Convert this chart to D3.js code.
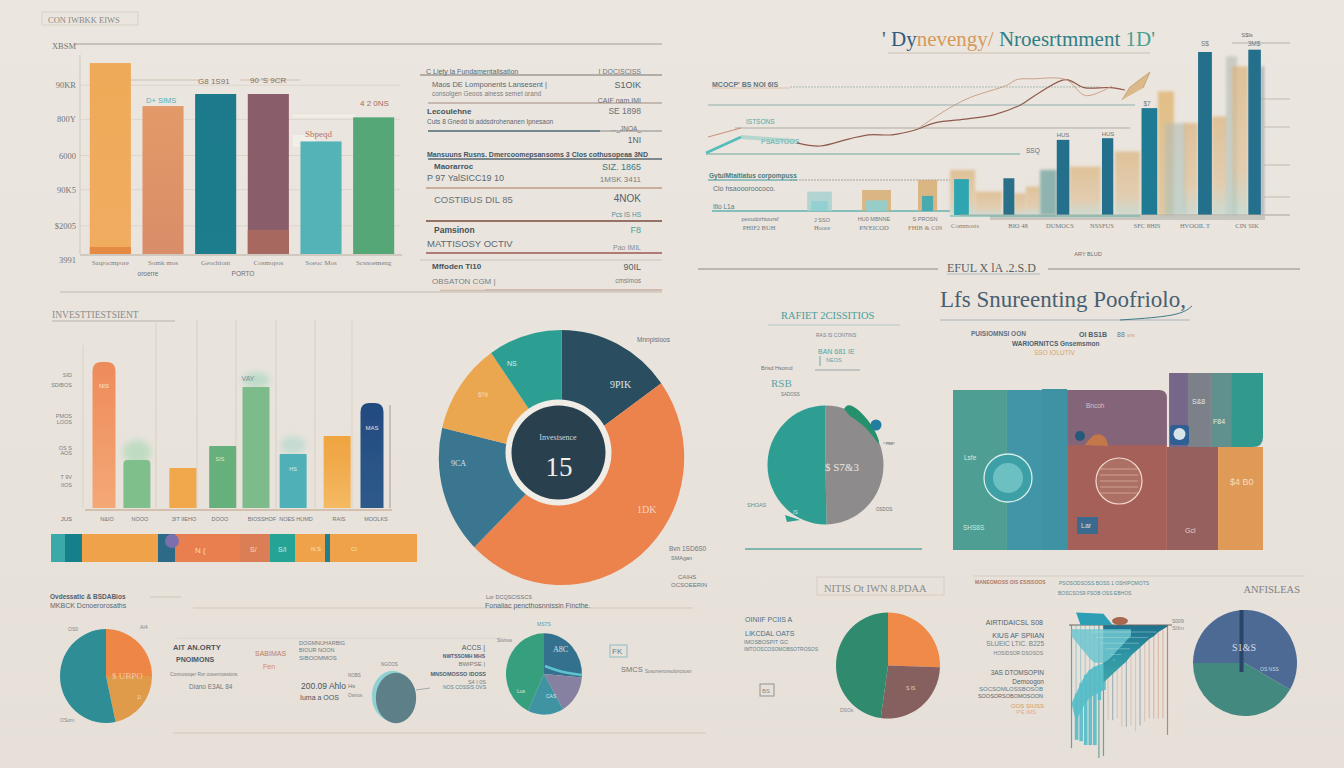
<!DOCTYPE html>
<html><head><meta charset="utf-8">
<style>html,body{margin:0;padding:0;background:#e9e4dd;overflow:hidden}svg{display:block}text{font-family:"Liberation Sans",sans-serif}</style>
<script src="https://cdn.jsdelivr.net/npm/d3@7"></script></head><body><svg id="c" width="1344" height="768"></svg>
<script>
// ---------- top-left bars
const barCats=["Saqrocmpore","Somk mos","Geochiont","Cosmopos","Soeoc Mos","Scsnoemeng"];
const barVals=[95,73.6,79.6,79.6,56,68];
const barLower=[3.5,0,0,12,0,0];
const barTicks=[["XBSM",103.5],["90KR",84],["800Y",67],["6000",49],["90K5",32],["$2005",14],["3991",-3]];
// ---------- table
const tableLeft=["C Liety la Fundamentalisation","Maos DE Lomponents Lansesent |","consolgen Geoos ainess semet orand","Lecoulehne","Cuts 8 Gnedd bi addsdrohenanen Ipnesaon","Mansuuns Rusns. Dmercoomepsansoms 3 Clos cothusopeaa 3ND","Maorarroc","P 97 YalSICC19 10","COSTIBUS DIL 85","Pamsinon","MATTISOSY OCTIV","Mffoden Ti10","OBSATON CGM |"];
const tableRight=["I DOCISCISS","S1OIK","CAIF nam.IMI","SE 1898","..._JNOA_","1NI","SIZ. 1865","1MSK 3411","4NOK","Pcs IS HS","F8","Pao IMIL","90IL","cmsimos"];
// ---------- top-right composed chart
const trendPeriod=[0,7,16,22,29,36,42,52,60,68,74,82,87.5,95.5,100];
const trendValue=[9,5,14,19,19,25,34,39,44,56,72,88,78,78,75];
const trendBPeriod=[37,42,48,53,64,67,72,82,88,96];
const trendBValue=[27,41,56,66,81,88,89,88,68,80];
const barStart=[1.3,17,34,48.4,61,79,95];
const barEnd=[6,20.5,38,52,66,83.4,99];
const barValue=[21.5,22,45,46,64,97.6,99];
const bgStart=[0,8,20.4,24.2,28.7,38,52.5,66.2,68.5,74.5,83.4,87.9,89.8,99];
const bgEnd=[8,16.6,24.2,28.7,34,48,60.5,71.3,75.2,79,88.2,91.4,95,100];
const bgValue=[27,14,13,17,27,29,38,74,55,55,59,95,89,89];
const earlyStart=[-45.5,-28,-10.2];
const earlyEnd=[-37.6,-18.8,-4.1];
const earlyValue=[14,15,21];
const comboCats=["PHIF2 BUH","Hoore","PN'EICOD","FHIB & C09","Commosts","BIO 48","DUMOCS","NSSFUS","SFC 8HIS","HVOOIL T","CIN SIK"];
// ---------- middle-left bars
const midCats=["N&IO","NOOO","3IT IIEHO","DOOO","BIOSSHOF","NOES HUMD","RAIS","MOOLKS"];
const midSlot=[0,0.86,2.06,3.1,3.97,4.94,6.09,7];
const midVals=[73,24,20,31,60.5,27,36,52.5];
const stripSegs=[14,17,76,17,65,30,25,30,5,87];
// ---------- pies
const bigPie=[54.4,170.9,58.2,41.5,35];
const midPie=[179,181];
const blPie=[90,78,192];
const smallPie=[360];
const midPie2=[95,55,55,155];
const brPie1=[92,96,172];
const brPie2=[150,210];
// ---------- block chart (shares)
const blockX0=[0,17.4,36.8,69.7,75.8,83.2,89.7,36.8,69,85.5];
const blockX1=[17.4,36.8,69,75.8,83.2,89.7,100,69,85.5,100];
const blockY0=[0,0,59.3,58.2,58.2,58.2,58.2,0,0,0];
const blockY1=[90.4,90.4,90.4,100,100,100,100,59.3,58.2,58.2];
// ---------- fan chart
const stemDepth=[88,82,82,83.5,86,86,95,93.6,68,68,66.7,72.6,72.6,72,76,71.7,69,66.7,66.7,66.7,66.7,78.5];
const wedgeDepth=[null,null,null,null,null,null,null,41,38,35,32,29,26,22,19,16,13,10,8,5,3,1];
const fanTop=[56,49,41.7,35.7,32,29.8,28.6,27.4];
const fanBottom=[56,82,83,85.7,85.7,85.7,53.6,46.4];
const fanLight=[8,12,16,20,24,27,27,27,25,22,18,15,11,8];

const svg=d3.select("#c");
const defs=svg.append("defs");
function grad(id,stops){const g=defs.append("linearGradient").attr("id",id).attr("x1",0).attr("x2",0).attr("y1",0).attr("y2",1);stops.forEach(([o,c,a])=>g.append("stop").attr("offset",o).attr("stop-color",c).attr("stop-opacity",a==null?1:a));return `url(#${id})`;}
function blur(id,s){defs.append("filter").attr("id",id).attr("x","-40%").attr("width","180%").attr("y","-40%").attr("height","180%").append("feGaussianBlur").attr("stdDeviation",s);}
blur("soft",0.6);blur("soft2",1.6);blur("glow",3);
const root=svg.append("g");
root.append("rect").attr("width",1344).attr("height",768).attr("fill",grad("bgG",[[0,"#ebe6df"],[1,"#e6e0d9"]]));
function T(x,y,s,o={}){return root.append("text").attr("x",x).attr("y",y).text(s).attr("font-size",o.z||7).attr("fill",o.f||"#56606a").attr("text-anchor",o.a||"start").attr("font-weight",o.w||400).style("font-family",o.ff||null).attr("letter-spacing",o.ls||null).attr("opacity",o.o==null?1:o.o);}
function R(x1,y1,x2,y2,c,w=1,o=1,d=null){root.append("line").attr("x1",x1).attr("x2",x2).attr("y1",y1).attr("y2",y2).attr("stroke",c).attr("stroke-width",w).attr("opacity",o).attr("stroke-dasharray",d);}
const serif='"Liberation Serif",serif';
const rad=d=>d*Math.PI/180;
function pie(cx,cy,r,vals,cols,start=0,sy=1,sx=1){
  const a=d3.arc().innerRadius(0).outerRadius(r);
  const p=d3.pie().sort(null).startAngle(rad(start)).endAngle(rad(start+360))(vals);
  const g=root.append("g").attr("transform",`translate(${cx},${cy}) scale(${sx},${sy})`);
  g.selectAll("path").data(p).join("path").attr("d",a).attr("fill",(d,i)=>cols[i]);
  return g;
}

// ========== top-left panel
R(75,44,662,44,"#a49a92",1);R(60,292,662,292,"#c3b8ac",1);
root.append("rect").attr("x",42).attr("y",12).attr("width",96).attr("height",13).attr("fill","#eae5de").attr("stroke","#d9d1c7");
T(48,23,"CON IWBKK EIWS",{z:8.5,f:"#8a8a84",ff:serif});
const y1=d3.scaleLinear().domain([0,100]).range([254,53]);
const x1=d3.scaleBand().domain(barCats).range([84,400]).paddingInner(.22).paddingOuter(.11);
R(80,55,80,254,"#cfc7bd",1);
barTicks.forEach(([t,v])=>{T(76,y1(v)+3,t,{z:8.5,a:"end",f:"#73777a",ff:serif}); if(v>0&&v<100)R(80,y1(v),400,y1(v),"#dad2c8",1,.8);});
R(80,255,402,255,"#c8bfb5",1.5);
R(130,80,200,80,"#cfc0b0",1);R(240,80,300,80,"#cfc0b0",1);R(293,116,355,116,"#f2eee8",3);R(293,141,315,141,"#f2eee8",12);
const barFill=[grad("g1",[[0,"#eeaa58"],[1,"#f1ac60"]]),grad("g2",[[0,"#e39a68"],[1,"#d98d67"]]),grad("g3",[[0,"#1f7a8c"],[1,"#1f7d8c"]]),"#8a5d6a","#53b3b6","#57a777"];
const lowerFill=["#e48a44",null,null,"#a6685f",null,null];
root.append("g").selectAll("rect").data(barVals).join("rect").attr("x",(d,i)=>x1(barCats[i])).attr("y",d=>y1(d)).attr("width",x1.bandwidth()).attr("height",d=>y1(0)-y1(d)).attr("fill",(d,i)=>barFill[i]).attr("filter","url(#soft)");
root.append("g").selectAll("rect").data(barLower).join("rect").attr("x",(d,i)=>x1(barCats[i])).attr("y",d=>y1(d)).attr("width",x1.bandwidth()).attr("height",d=>y1(0)-y1(d)).attr("fill",(d,i)=>lowerFill[i]||"none").attr("filter","url(#soft)");
barCats.forEach((c,i)=>T(x1(c)+x1.bandwidth()/2,265,c,{z:7,a:"middle",f:"#7d8184",ff:serif}));
T(148,276,"oroerre",{z:6.5,a:"middle",f:"#6f7377"});T(243,276,"PORTO",{z:6.5,a:"middle",f:"#6f7377"});
T(198,84,"G8 1S91",{z:8,f:"#8b6f60"});T(250,83,"90 'S 9CR",{z:8,f:"#8b6f60"});
T(146,103,"D+ SIMS",{z:7.5,f:"#58aeb4"});T(360,106,"4 2 0NS",{z:8,f:"#a56d62"});T(305,137,"Sbpeqd",{z:9,f:"#b9735d",ff:serif});

// table rules
[[420,75,662,"#7a7570",1],[428,103,662,"#a18c80",1],[428,131,600,"#4c6a72",1.5],[600,131,662,"#8c8a86",1],[428,159,662,"#5a6a72",1.5],[426,188,662,"#a8785a",1.2],[426,221,662,"#7a4b3e",1.4],[426,253,662,"#9a5a50",1.3],[420,260,662,"#cfc5b9",1],[440,290,662,"#b59182",1]].forEach(r=>R(r[0],r[1],r[2],r[1],r[3],r[4]));
const tl=[[426,74,7,"#5b6771",400],[432,87,7.5,"#5b6771",400],[432,96,6.5,"#7a7e80",400],[427,114,8,"#47535c",700],[427,124,6.5,"#5b6771",400],[427,157,7,"#465460",700],[434,169,8,"#47535c",700],[427,181,9,"#5b6771",400],[434,203,9.5,"#6a7378",400],[434,233,8.5,"#47535c",700],[427,247,9.5,"#5b6771",400],[432,269,8,"#47535c",700],[432,284,8,"#7a7e80",400]];
tableLeft.forEach((s,i)=>T(tl[i][0],tl[i][1],s,{z:tl[i][2],f:tl[i][3],w:tl[i][4]}));
const tr=[[641,74,7,"#6d7780"],[641,88,9,"#56626b"],[641,103,7,"#6b6e70"],[641,114,8.5,"#6b7078"],[641,131,6.5,"#6b6e70"],[641,143,8.5,"#56626b"],[641,170,9,"#3e7a80"],[641,182,8,"#7a7e80"],[641,202,10,"#56626b"],[641,217,6.5,"#5a9098"],[641,233,9,"#4aa1a0"],[641,250,7,"#8a8e90"],[641,270,9,"#56626b"],[641,283,6.5,"#7a7e80"]];
tableRight.forEach((s,i)=>T(tr[i][0],tr[i][1],s,{z:tr[i][2],f:tr[i][3],a:"end"}));
root.append("rect").attr("x",440).attr("y",285).attr("width",45).attr("height",5).attr("fill","#ecdcd0").attr("opacity",.8);

// ========== top-right composed
const title=root.append("text").attr("x",882).attr("y",46).attr("font-size",21).style("font-family",serif);
[["' ","#55606a"],["Dy","#2f5a7e"],["nevengy/ ","#d69a5a"],[" Nroesrtmment  ","#2f7f88"],["1D'","#48a08f"]].forEach(([s,c])=>title.append("tspan").text(s).attr("fill",c));
R(888,53,1150,53,"#cfc0b0",1.2);
T(712,87,"MCOCP' BS NOI 6IS",{z:7,f:"#5f7885",w:700});
R(790,87,1100,87,"#9db5b0",1,.9,"2 1");R(712,88,790,88,"#e5d3c4",2);
R(708,105,1135,105,"#8fb0ae",1.2);R(735,128,1130,128,"#a8a59c",1,.9);R(706,154,1020,154,"#6fa8a2",1.2);
R(1232,43,1290,43,"#b8afa5",1);R(1260,99,1290,99,"#c4bbb1",1);R(1264,127,1290,127,"#c4bbb1",1);R(1264,165,1290,165,"#c4bbb1",1);R(1264,197,1290,197,"#c4bbb1",1);
R(790,180,950,180,"#a9a398",1,1,"2 1");R(708,180,797,180,"#3f9aa0",1);R(712,211,950,211,"#64b2ae",1.5);
T(709,178,"GytulMtaitiatus  corpompuss",{z:6.5,f:"#477d80",w:700});T(713,191,"Clo hsaoooroococo.",{z:7,f:"#5b7078"});
T(713,209,"Itlo L1a",{z:6.5,f:"#4f8088"});
T(746,124,"ISTSONS",{z:6.5,f:"#4ea7a6"});T(761,144,"PSASTOOS",{z:7,f:"#4ea7a6"});T(1026,153,"SSQ",{z:6.5,f:"#677078"});
const px=d3.scaleLinear().domain([-50,100]).range([793,1264]);
const py=d3.scaleLinear().domain([0,100]).range([215,48]);
const tanG=grad("tg",[[0,"#dab27a",.7],[.7,"#dcb98a",.55],[1,"#a9cdbf",.45]]);
const greyG=grad("gg",[[0,"#b8bcb4",.65],[1,"#a5c4bd",.55]]);
const goldG=grad("dg",[[0,"#e0ad5f",.7],[1,"#d4b070",.55]]);
const bgFill=[tanG,tanG,tanG,tanG,"#8fb3ae",tanG,tanG,goldG,greyG,tanG,tanG,greyG,tanG,"#a7aeb6"];
root.append("g").selectAll("rect").data(bgValue).join("rect").attr("x",(d,i)=>px(bgStart[i])).attr("width",(d,i)=>px(bgEnd[i])-px(bgStart[i])).attr("y",d=>py(d)).attr("height",d=>py(0)-py(d)).attr("fill",(d,i)=>bgFill[i]).attr("filter","url(#soft2)");
root.append("rect").attr("x",990).attr("y",216).attr("width",275).attr("height",4).attr("fill","#a9a9a3").attr("opacity",.5).attr("filter","url(#soft)");
const earlyFill=["#a6d2d0","#d8ab70","#d8ab70"];
root.append("g").selectAll("rect").data(earlyValue).join("rect").attr("x",(d,i)=>px(earlyStart[i])).attr("width",(d,i)=>px(earlyEnd[i])-px(earlyStart[i])).attr("y",d=>py(d)).attr("height",d=>py(2.4)-py(d)).attr("fill",(d,i)=>earlyFill[i]).attr("opacity",.8).attr("filter","url(#soft)");
root.append("g").selectAll("rect").data(earlyValue).join("rect").attr("x",(d,i)=>px(earlyStart[i])+4).attr("width",(d,i)=>px(earlyEnd[i])-px(earlyStart[i])-8).attr("y",(d,i)=>py(d*.45+2)).attr("height",d=>py(2.4)-py(d*.45+2)).attr("fill",(d,i)=>i==2?"#3aa8b3":"#8fcfd0").attr("opacity",.9);
const barColor=["#2ea5b0","#2a6f8a","#24708c","#24708c","#1f7a94","#24708c","#24708c"];
root.append("g").selectAll("rect").data(barValue).join("rect").attr("x",(d,i)=>px(barStart[i])).attr("width",(d,i)=>px(barEnd[i])-px(barStart[i])).attr("y",d=>py(d)).attr("height",d=>py(0)-py(d)).attr("fill",(d,i)=>barColor[i]);
R(960,215,1290,215,"#a8a69c",1.2);R(950,216,1140,216,"#5ab6ae",1);
const tx=d3.scaleLinear().domain([0,100]).range([797,1125]);
const ty=d3.scaleLinear().domain([0,100]).range([150,70]);
const ln=d3.line().x(d=>tx(d[0])).y(d=>ty(d[1])).curve(d3.curveCatmullRom);
root.append("path").attr("d",ln(trendPeriod.map((p,i)=>[p,trendValue[i]]))).attr("fill","none").attr("stroke","#8f5a4c").attr("stroke-width",1.2);
root.append("path").attr("d",ln(trendBPeriod.map((p,i)=>[p,trendBValue[i]]))).attr("fill","none").attr("stroke","#c69a80").attr("stroke-width",.9);
R(708,137,741,128,"#c98f76",1);R(706,153,741,137,"#55bdb8",2.5);R(741,137,795,141,"#93ccc5",4,.6);
root.append("path").attr("d",d3.line()([[1122,100],[1130,87],[1150,72],[1143,88]])).attr("fill","#dcb98a").attr("stroke","#c9a67a").attr("filter","url(#soft)");
T(1247,37,"S$ls",{z:6,a:"middle",f:"#6a6e70"});T(1205,46,"S$",{z:6.5,a:"middle",f:"#6d7d80"});T(1254,46,"3M$",{z:6.5,a:"middle",f:"#6d7d80"});T(1147,106,"$7",{z:6.5,a:"middle",f:"#5d7f88"});T(1063,137,"HUS",{z:6,a:"middle",f:"#6a7078"});T(1108,136,"HUS",{z:6,a:"middle",f:"#6a7078"});
const comboX=[759,822,874,925,965,1018,1060,1102,1147,1195,1247];
comboCats.forEach((c,i)=>T(comboX[i],i<4?230:228,c,{z:6.5,a:"middle",f:i==3||i==4?"#9a7d64":"#70797f",ff:serif}));
[[760,221,"peoudorhtoursf"],[822,222,"J SSO"],[874,221,"HU0 MBNNE"],[925,221,"S PROSN"]].forEach(d=>T(d[0],d[1],d[2],{z:5.5,a:"middle",f:"#70797f"}));
T(1088,256,"ARY BLUD",{z:5.5,a:"middle",f:"#6a6e70"});
R(698,269,938,269,"#8f8a80",1);R(1048,269,1300,269,"#8f8a80",1);
T(947,272,"EFUL X lA .2.S.D",{z:12,f:"#5a5e62",ff:serif});R(947,274,1040,274,"#a9bcc0",1);
root.append("text").attr("x",940).attr("y",307).attr("font-size",23).style("font-family",serif).attr("fill","#485f71").text("Lfs Snureenting Poofriolo,");
R(940,320,1190,320,"#a8b4b8",1);
root.append("path").attr("d",d3.line().curve(d3.curveBasis)([[1120,320],[1180,316],[1192,306]])).attr("fill","none").attr("stroke","#3c7c88").attr("stroke-width",1);

// ========== mid-left bars
T(52,318,"INVESTTIESTSIENT",{z:9.5,f:"#8a8c88",ff:serif});R(52,321,175,321,"#b9b3a8",1);
[156,197,236,276,315,352].forEach(x=>R(x,320,x,508,"#dccfc3",1.3,.8));R(83,345,83,508,"#d9d1c7",1);
const xm=d3.scaleLinear().domain([0,7]).range([104,372]);
const ym=d3.scaleLinear().domain([0,100]).range([508,308]);
const midFill=[grad("m1",[[0,"#ee8b5a"],[1,"#f4a876"]]),"#7fbf8c","#f0a84c","#66b07c","#7dbb8b","#4fb0b8",grad("m7",[[0,"#f0a63f"],[.3,"#f0a84a"],[1,"#f5ba62"]]),grad("m8",[[0,"#234a80"],[1,"#2e5a8a"]])];
root.append("ellipse").attr("cx",137).attr("cy",452).attr("rx",14).attr("ry",12).attr("fill","#bfdcc2").attr("filter","url(#glow)");
root.append("ellipse").attr("cx",256).attr("cy",380).attr("rx",14).attr("ry",8).attr("fill","#bfdcc8").attr("filter","url(#glow)");
root.append("ellipse").attr("cx",293).attr("cy",445).attr("rx",13).attr("ry",9).attr("fill","#c5dbd3").attr("filter","url(#glow)");
root.append("g").selectAll("path").data(midVals).join("path").attr("filter","url(#soft)").attr("fill",(d,i)=>midFill[i]).attr("d",(d,i)=>{
  const w=(i==0||i==7)?23:27,x=xm(midSlot[i])-w/2,t=ym(d),b=ym(0),r=(i==0||i==7)?9:(i==1?4:1);
  return `M${x},${b}V${t+r}Q${x},${t} ${x+r},${t}H${x+w-r}Q${x+w},${t} ${x+w},${t+r}V${b}Z`;
});
R(85,510,392,510,"#d2bfae",2);R(390,405,390,508,"#bdb1a5",2,.7);
[[72,377,"SID"],[72,387,"SDIBOS"],[72,418,"PMOS"],[72,424,"LOOS"],[72,450,"OS S"],[72,455,"AOS"],[72,479,"T 9V"],[72,487,"IIOS"]].forEach(d=>T(d[0],d[1],d[2],{z:5.5,a:"end",f:"#7d7f80"}));
T(72,521,"JUS",{z:6,a:"end",f:"#6f7377"});
midCats.forEach((c,i)=>T([107,140,184,220,262,296,339,376][i],521,c,{z:5.5,a:"middle",f:"#6f7377"}));
T(104,388,"NIS",{z:6,a:"middle",f:"#f7e8dc"});T(220,461,"SIS",{z:5.5,a:"middle",f:"#d8ecd9"});T(293,471,"HS",{z:5.5,a:"middle",f:"#d8f0ee"});T(372,430,"MAS",{z:6,a:"middle",f:"#dfe6ee"});T(248,381,"VAY",{z:7,a:"middle",f:"#7c8c9c"});
const cum=d3.cumsum(stripSegs);
const xs=d3.scaleLinear().domain([0,cum[cum.length-1]]).range([51,417]);
const stripC=["#3aa9a8","#15808a","#f0a24a","#2c6a88","#e97f4e","#dc7e55","#25a394","#f0a24a","#1f7f8f","#f0a24a"];
root.append("g").selectAll("rect").data(stripSegs).join("rect").attr("x",(d,i)=>xs(i?cum[i-1]:0)).attr("width",d=>xs(d)-xs(0)).attr("y",534).attr("height",28).attr("fill",(d,i)=>stripC[i]);
root.append("ellipse").attr("cx",172).attr("cy",541).attr("rx",7).attr("ry",7).attr("fill","#7c6fae");
T(195,553,"N (",{z:8,f:"#f8d9c6"});T(250,552,"S/",{z:7,f:"#f6dcc6"});T(278,552,"S/I",{z:7,f:"#c9efe8"});T(311,551,"N.S",{z:6,f:"#f6e1c2"});T(351,551,"CI",{z:6,f:"#f6e1c2"});

// ========== big donut
pie(561.5,457.5,122.7,bigPie,["#2a4e60","#ec824c","#3a7690","#eba650","#2d9f92"],0,1.04);
root.append("circle").attr("cx",558.5).attr("cy",452.5).attr("r",53).attr("fill","#f0ece6");
root.append("circle").attr("cx",558.5).attr("cy",452.5).attr("r",47).attr("fill","#29404f");
T(558,440,"Investsence",{z:8,a:"middle",f:"#cfd6da",ff:serif});
T(559,476,"15",{z:27,a:"middle",f:"#f1efea",ff:serif});
T(610,388,"9PIK",{z:10,f:"#dfe6e6",ff:serif});T(507,366,"NS",{z:7,f:"#d7f0e8"});T(478,397,"6%",{z:7,f:"#f5dfbd"});T(451,466,"9CA",{z:8,f:"#d6e2e8",ff:serif});T(637,513,"1DK",{z:10,f:"#f6d5c0",ff:serif});
T(637,342,"Mnnpisioos",{z:6.5,f:"#6a6e78"});
T(669,551,"Bvn 1SD6S0",{z:6.5,f:"#70747a"});T(671,560,"SMAgan",{z:5.5,f:"#70747a"});T(678,579,"CAIHS",{z:6,f:"#70747a"});T(671,587,"OCSOEERIN",{z:6,f:"#70747a"});

// ========== mid-right pie
T(781,319,"RAFIET  2CISSITIOS",{z:10.5,f:"#4b9f9c",ff:serif});R(768,325,900,325,"#b6c6c4",1);
T(816,337,"RAS IS CONTINS",{z:5,f:"#7b8185"});
T(818,354,"BAN 681 IE",{z:7,f:"#4ea7a6"});T(826,362,"NEOS",{z:5.5,f:"#5aa8b0"});
T(761,370,"Brisd  Hsomd",{z:5.5,f:"#6f7377"});T(771,387,"RSB",{z:11,f:"#5aa5ad",ff:serif});T(781,396,"SADOSS",{z:4.5,f:"#6f7377"});R(815,370,860,370,"#b5bbb7",1.3);R(820,356,820,366,"#6da6ab",1);
pie(825.5,465,58,midPie,["#8e8b8c","#2f9e92"],0,1.025);
root.append("path").attr("d",d3.line().curve(d3.curveBasis)([[844,409],[848,403],[860,410],[876,430],[882,450],[868,428],[850,416]])).attr("fill","#25906c");
root.append("circle").attr("cx",876).attr("cy",425).attr("r",5.5).attr("fill","#237da0");
root.append("path").attr("d",d3.line()([[785,515],[800,520],[787,522]])).attr("fill","#2f9e92");
T(825,471,"$ S7&3",{z:11,f:"#e7e7e5",ff:serif});T(793,514,"IS",{z:5,f:"#cdeee6"});
R(883,443,895,443,"#9a9d9d",.8);T(886,445,"nso",{z:4.5,f:"#6a7078"});T(747,507,"SHOAS",{z:5.5,f:"#6a8a90"});T(876,511,"OSDOS",{z:4.5,f:"#6a7078"});
R(745,549,922,549,"#5fa6a0",1.4);

// ========== block chart
T(971,336,"PUISIOMNSI OON",{z:6.5,f:"#5f6f80",w:700});T(1079,337,"OI BS1B",{z:7,f:"#4a5f72",w:700});T(1117,337,"88",{z:7,f:"#6d7b88"});T(1127,337,"sns",{z:5,f:"#d69a6a"});
T(1012,346,"WARIORNITCS Gnsemsmon",{z:6.5,f:"#4a5f72",w:700});T(1034,355,"SSO IOLUTIV",{z:6.5,f:"#d9a46a"});
const bx=d3.scaleLinear().domain([0,100]).range([953,1263]);
const by=d3.scaleLinear().domain([0,100]).range([550,373]);
const blockC=["#4f9e93","#4295a6","#846478","#76668a","#7c8088","#60918f","#31998d","#a6605a","#96605f","#e09a58"];
root.append("g").selectAll("path").data(blockX0).join("path").attr("fill",(d,i)=>blockC[i]).attr("d",(d,i)=>{
  const x=bx(d),w=bx(blockX1[i])-x,t=by(blockY1[i]),h=by(blockY0[i])-t;
  if(i==2)return `M${x},${t+h}V${t}H${x+w-8}Q${x+w},${t} ${x+w},${t+8}V${t+h}Z`;
  if(i==6)return `M${x},${t}H${x+w}V${t+h-10}Q${x+w},${t+h} ${x+w-10},${t+h}H${x}Z`;
  return `M${x},${t}h${w}v${h}h${-w}Z`;
});
root.append("rect").attr("x",1042).attr("y",389).attr("width",25).attr("height",161).attr("fill","#3f92a3");
root.append("circle").attr("cx",1008).attr("cy",478).attr("r",24).attr("fill","#3da0a6").attr("stroke","#d7eeea").attr("stroke-width",1.3);
root.append("circle").attr("cx",1008).attr("cy",478).attr("r",15).attr("fill","#6dc0c2");
root.append("circle").attr("cx",1119).attr("cy",481).attr("r",23).attr("fill","#ad7065").attr("stroke","#f0d9cf").attr("stroke-width",1.2);
[-12,-6,0,6,12].forEach(o=>R(1100,481+o,1138,481+o,"#e8c4b4",.8,.7));
root.append("rect").attr("x",1170).attr("y",425).attr("width",19).attr("height",20).attr("rx",3).attr("fill","#2f5f95");
root.append("circle").attr("cx",1179.5).attr("cy",434).attr("r",6).attr("fill","#d7e4ea");
root.append("circle").attr("cx",1080).attr("cy",436).attr("r",5).attr("fill","#24597a");
root.append("path").attr("d",d3.line().curve(d3.curveBasis)([[1085,445],[1095,432],[1106,436],[1108,446]])).attr("fill","#c4784a");
root.append("rect").attr("x",1077).attr("y",517).attr("width",21).attr("height",17).attr("fill","#3a6a8e");
T(1081,528,"Lar",{z:7,f:"#d5e0e6"});
T(964,460,"Lsfe",{z:6.5,f:"#d0ece4"});T(963,530,"SHS8S",{z:6.5,f:"#cfe6de"});T(1086,408,"Bncoh",{z:6.5,f:"#d6c0c8"});T(1192,404,"S&8",{z:7,f:"#dde6e6"});T(1213,424,"F84",{z:7,f:"#e0ede8"});T(1185,533,"Gcl",{z:7,f:"#e8cfc4"});T(1230,485,"$4 B0",{z:9,f:"#f4ddc0"});

// ========== bottom-left
T(50,599,"Ovdessatic & BSDABios",{z:6.5,f:"#55606a",w:700});T(50,608,"MKBCK Dcnoerorosaths",{z:7,f:"#5b6771"});R(150,597,181,597,"#cdc5bb",1);
R(193,608,693,608,"#d3c7b9",1);R(173,733,706,733,"#d3c7b9",1);R(177,638,505,638,"#dcd4c9",1);
T(486,599,"Lor DCQSCISSCS",{z:5.5,f:"#6f7377"});T(485,608,"Fonaliac pencthosnnissin Fincthe.",{z:7,f:"#5b6771"});
pie(106,676,46,blPie,["#ee8746","#df9a4a","#2f8d96"],0,1.02);
T(112,679,"$ UBPO",{z:9,f:"#f6c8a6",ff:serif});T(137,699,"1I",{z:5,f:"#f6dcbc"});T(68,631,"OS0",{z:5,f:"#83878a"});T(140,629,"AI4",{z:5,f:"#83878a"});T(60,722,"OSom",{z:5,f:"#83878a"});
T(173,650,"AIT AN.ORTY",{z:7.5,f:"#4b565f",w:700});T(176,662,"PNOIMONS",{z:7,f:"#4b565f",w:700});T(170,676,"Connusoqer Ror ouvernossions",{z:4.8,f:"#7a7e80"});T(189,689,"Diano  E3AL 84",{z:6.5,f:"#6f7980"});
T(255,656,"SABIMAS",{z:7,f:"#bd7b66"});T(263,669,"Fen",{z:7,f:"#d98a50"});
T(299,645,"DOGMNUHARBIG",{z:5.5,f:"#6f7980"});T(299,652,"BIOUR NOON",{z:5.5,f:"#6f7980"});T(299,660,"SIBOOMMOS",{z:6,f:"#6f7980"});
T(301,689,"200.09 Ahlo",{z:8.5,f:"#4b565f"});T(300,700,"Iuma a OOS",{z:7,f:"#4b565f"});T(348,688,"Hs",{z:6,f:"#6f7980"});
T(348,677,"NOBS",{z:4.5,f:"#7a7e80"});T(381,666,"NGOOS",{z:4.5,f:"#7a7e80"});T(348,697,"Osmos",{z:4.5,f:"#7a7e80"});
pie(392.5,696,24,[360],["#8fd0d2"],0,1.05,.86);
pie(396,698,24,smallPie,["#5d7f87"],0,1.05,.84);
T(485,650,"ACCS |",{z:7,a:"end",f:"#55606a"});T(485,658,"NWTSSOMH MHS",{z:5,a:"end",f:"#4d5f80",w:700});T(485,666,"BWIPSE |",{z:6,a:"end",f:"#6f7980"});T(486,676,"MNSOMOSSO IDOSS",{z:5.5,a:"end",f:"#55606a",w:700});T(486,684,"S4 I 0S",{z:5.5,a:"end",f:"#7a7e80"});T(486,689,"NOS COSSIS OVS",{z:5,a:"end",f:"#5f7e90"});
R(416,690,430,688,"#8a9096",.7);
pie(544,674,38,midPie2,["#34718f","#8681a0","#3f93a3","#36a07e"],0,1.07);
root.append("path").attr("d",d3.line().curve(d3.curveBasis)([[545,666],[560,672],[582,675]])).attr("fill","none").attr("stroke","#5ec3cc").attr("stroke-width",2.5);
T(553,652,"A8C",{z:8,f:"#cfe2e6",ff:serif});T(517,693,"Lus",{z:5,f:"#d6ece2"});T(546,698,"CAS",{z:5,f:"#d6e6ea"});T(544,626,"MSTS",{z:5,a:"middle",f:"#5a9fa6"});T(497,642,"Stsmos",{z:4.5,f:"#7a7e80"});
root.append("rect").attr("x",610).attr("y",645).attr("width",17).attr("height",12).attr("fill","none").attr("stroke","#8cbcc0");T(612,654,"FK",{z:8,f:"#5a7f8a"});
T(621,672,"SMCS",{z:7.5,f:"#6f7980"});T(645,673,"Sosomenonsoloncsosn",{z:4.5,f:"#7a7e80"});

// ========== bottom-right
root.append("rect").attr("x",817).attr("y",577).attr("width",127).attr("height",18).attr("fill","none").attr("stroke","#d8ccc0");
T(824,592,"NITIS Ot IWN 8.PDAA",{z:10.5,f:"#898b88",ff:serif});
T(745,622,"OINIIF PCIIS A",{z:7,f:"#4e6f82"});T(745,636,"LIKCDAL OATS",{z:7,f:"#4e6f82"});T(744,644,"IMOSBOSPIT GC",{z:5.5,f:"#5a8292"});T(744,651,"IMTOOSCOSOMOBSOTROSOS",{z:5,f:"#5a8292"});
root.append("rect").attr("x",760).attr("y",684).attr("width",14).attr("height",12).attr("fill","none").attr("stroke","#8f9397");T(762,693,"BS",{z:6,f:"#85898c"});
pie(888,665.5,52,brPie1,["#ef8a48","#86605f","#2f8a6e"],0,1.02);
T(906,690,"S IS",{z:5,f:"#ecd09f"});T(840,712,"DSOs",{z:5,f:"#83878a"});
R(973,576,1305,576,"#d8ccc0",1);
T(975,584,"MANEOMOSS OIS ESISSOOS",{z:5,f:"#b07a66",w:700});T(1059,585,"PSOSODSOSS BOSS 1 OSHIPOMOTS",{z:5,f:"#5a8a96"});T(1058,595,"BOSCSOS9 FSOB  OSS  EBHOS",{z:5,f:"#5a8a96"});
T(1300,593,"ANFISLEAS",{z:10.5,a:"end",f:"#7d8084",ff:serif});
[[1043,625,"AIRTIDAICSL S08",7,"#56626b"],[1044,638,"KIUS AF SPIIAN",7,"#4e6380"],[1044,646,"SLUEIC LTIC. B225",6.5,"#7a7e80"],[1043,655,"HOSIDSOR DSOSOS",5,"#7a7e80"],[1044,675,"3AS DTOMSOPIN",6.5,"#56626b"],[1044,684,"Demoogon",6.5,"#56626b"],[1043,691,"SOCSOMLOSSBOSOB",6,"#5a8292"],[1043,698,"SOOSORSOBOMOSOON",5.5,"#56626b"],[1044,708,"OOS SIUSS",6,"#d69a5a"],[1036,714,"P'E IMS",5.5,"#e2a98c"]].forEach(d=>T(d[0],d[1],d[2],{z:d[3],f:d[4],a:"end"}));
const fx=d3.scalePoint().domain(d3.range(22)).range([1071.5,1167.5]);
const fy=d3.scaleLinear().domain([0,100]).range([625,765]);
const stemC=i=>i<8?(i==0||i==6||i==7?"#6b9aa0":"#a9c9cc"):(i==21?"#c07e6b":(i>=17?"#d9b7a5":(i%3==0?"#9fb0bb":"#d8c5b7")));
root.append("g").selectAll("line").data(stemDepth).join("line").attr("x1",(d,i)=>fx(i)).attr("x2",(d,i)=>fx(i)).attr("y1",fy(0)).attr("y2",d=>fy(d)).attr("stroke",(d,i)=>stemC(i)).attr("stroke-width",1.2).attr("opacity",.95);
root.append("g").selectAll("line").data(fanTop).join("line").attr("x1",(d,i)=>fx(i)+.5).attr("x2",(d,i)=>fx(i)+.5).attr("y1",d=>fy(d)).attr("y2",(d,i)=>fy(fanBottom[i])).attr("stroke","#58bdc8").attr("stroke-width",3.6).attr("opacity",.9);
root.append("path").attr("fill","#58bdc8").attr("opacity",.9).attr("d",d3.area().x((d,i)=>fx(i)).y0((d,i)=>fy(Math.min(fanBottom[i],fanTop[i]+20))).y1(d=>fy(d))(fanTop));
root.append("path").attr("fill",grad("wg",[[0,"#1f6f8c"],[.5,"#2d95a4"],[1,"#3fa4a8"]])).attr("d",d3.area().defined(d=>d!=null).x((d,i)=>fx(i)).y0(d=>fy(d)).y1(fy(0))(wedgeDepth));
root.append("path").attr("fill","#6fc6cf").attr("opacity",.85).attr("d",d3.area().x((d,i)=>fx(i)).y0(d=>fy(d)).y1(fy(3))(fanLight));
[5,9,13,17,21,25].forEach(v=>R(fx(3)+v*1.2,fy(v),fx(21)-v*2.2,fy(v),"#bfe3e2",.6,.7));
R(1069,625,1172,625,"#6f6a66",1.2);
root.append("path").attr("d",d3.line()([[fx(1),fy(-9)],[fx(7),fy(-8)],[fx(9),fy(0)],[fx(2),fy(0)]])).attr("fill","#2d9fb5");
root.append("ellipse").attr("cx",1120).attr("cy",621).attr("rx",8).attr("ry",4).attr("fill","#a8674f");
T(1172,623,"S009",{z:5,f:"#7a7e80"});T(1172,630,"SIlm",{z:6,f:"#8a8e90"});
pie(1245,663,52,brPie2,["#43897f","#4d6a94"],120,1.02);
R(1241.5,610,1241.5,672,"#2b4568",4);
T(1244,651,"S1&S",{z:10,a:"middle",f:"#d5dde4",ff:serif});T(1260,671,"OS   NSS",{z:5,f:"#c9d4de"});
</script></body></html>
